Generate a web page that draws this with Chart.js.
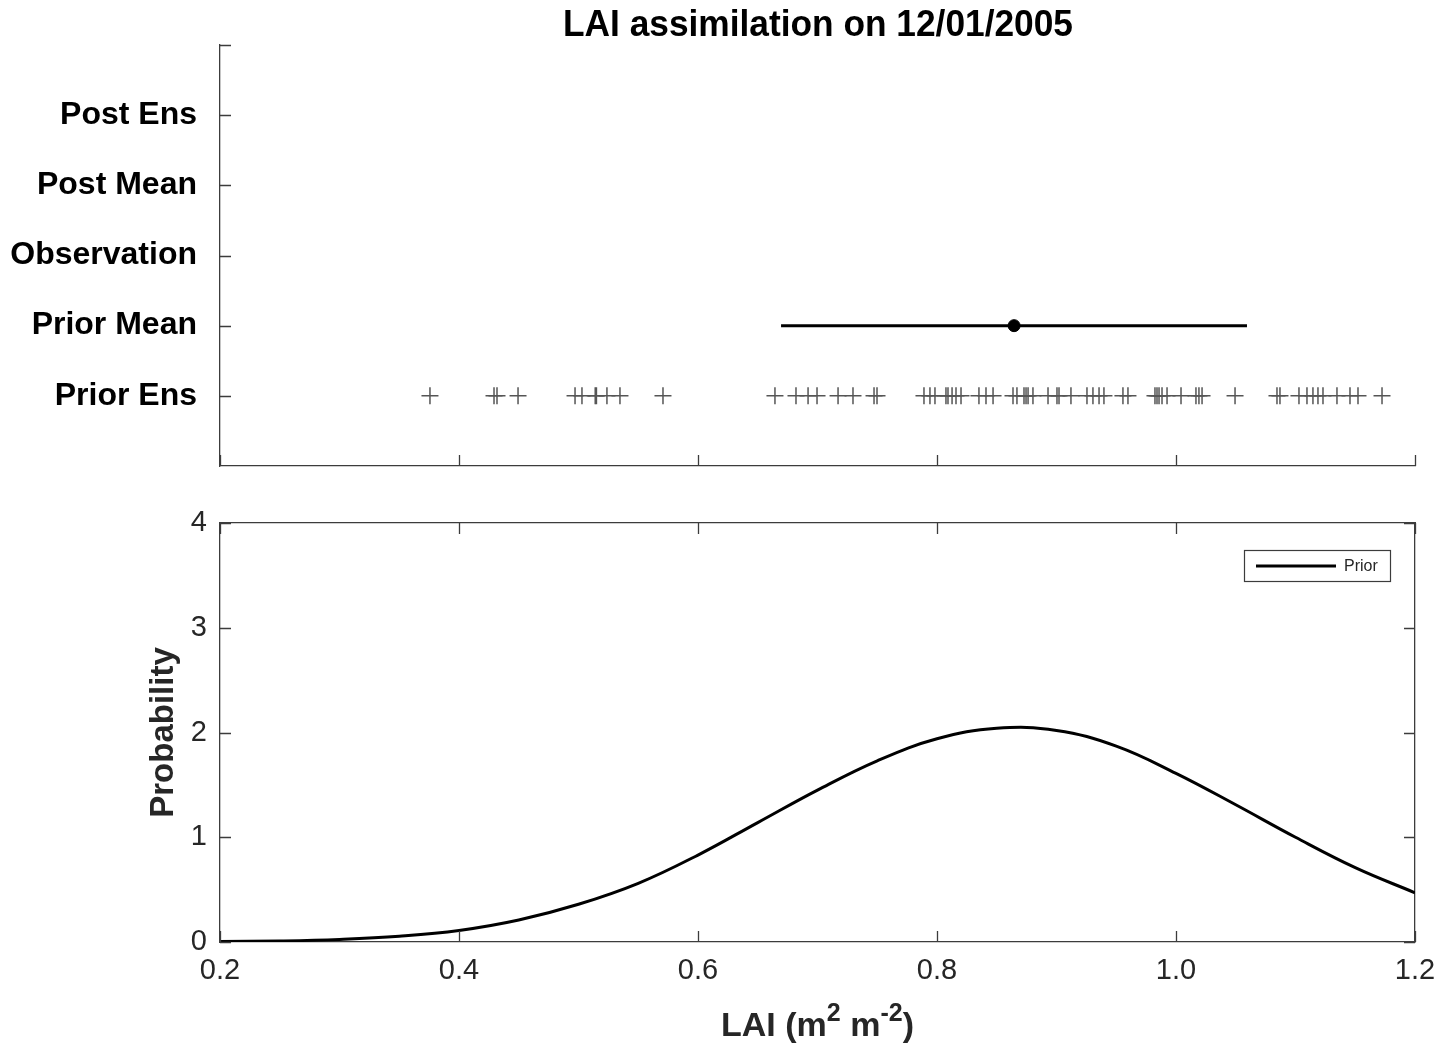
<!DOCTYPE html>
<html>
<head>
<meta charset="utf-8">
<script src="https://cdn.jsdelivr.net/npm/chart.js@4.4.1/dist/chart.umd.min.js"></script>
<style>
  html, body { margin:0; padding:0; background:#fff; }
  #wrapTop { position:absolute; left:0; top:0; width:1441px; height:490px; }
  #wrapBot { position:absolute; left:0; top:490px; width:1441px; height:558px; }
</style>
</head>
<body>
<div id="wrapTop"><canvas id="top" width="1441" height="490"></canvas></div>
<div id="wrapBot"><canvas id="bot" width="1441" height="558"></canvas></div>
<script>
// ---------- data ----------
const chartTitle = "LAI assimilation on 12/01/2005";
const rowLabels = ["Prior Ens", "Prior Mean", "Observation", "Post Mean", "Post Ens"]; // y = 1..5
const priorEnsemble = [
  0.3757, 0.4293, 0.4318, 0.4494, 0.4971, 0.5029, 0.5140, 0.5150, 0.5238, 0.5347, 0.5707,
  0.6644, 0.6820, 0.6921, 0.6996, 0.7172, 0.7297, 0.7473, 0.7498,
  0.7891, 0.7941, 0.7983, 0.8075, 0.8092, 0.8126, 0.8159, 0.8201, 0.8351, 0.8410, 0.8469,
  0.8636, 0.8669, 0.8728, 0.8745, 0.8762, 0.8803, 0.8929, 0.9004, 0.9021, 0.9121,
  0.9255, 0.9305, 0.9356, 0.9397, 0.9556, 0.9598,
  0.9824, 0.9841, 0.9858, 0.9883, 0.9925, 1.0042, 1.0167, 1.0192, 1.0218, 1.0494,
  1.0845, 1.0870, 1.1029, 1.1096, 1.1146, 1.1188, 1.1230, 1.1347, 1.1456, 1.1523, 1.1724
];
const priorMean = 0.8645;
const priorRangeLow = 0.6695;
const priorRangeHigh = 1.0594;

const pdfX = [0.20,0.25,0.30,0.35,0.40,0.45,0.50,0.55,0.60,0.65,0.70,0.75,0.80,0.85,0.90,0.95,1.00,1.05,1.10,1.15,1.20];
const pdfPrior = [0.004,0.010,0.025,0.055,0.110,0.210,0.360,0.560,0.830,1.140,1.450,1.730,1.940,2.040,2.020,1.870,1.610,1.310,1.000,0.710,0.470];

const xTicks = [0.2, 0.4, 0.6, 0.8, 1.0, 1.2];
const yTicksProb = [0, 1, 2, 3, 4];

// ---------- styles ----------
const AX = '#3c3c3c';
const FONT = '"Liberation Sans", Arial, Helvetica, sans-serif';

function noPad(s) { s.paddingTop = 0; s.paddingBottom = 0; s.paddingLeft = 0; s.paddingRight = 0; }

// inward tick marks plugin
function inwardTicks(sides) {
  return {
    id: 'inwardTicks',
    afterDatasetsDraw(chart) {
      const {ctx, chartArea: a, scales} = chart;
      const L = 11;
      ctx.save();
      ctx.strokeStyle = AX; ctx.lineWidth = 1.3;
      ctx.beginPath();
      const xs = scales.x, ys = scales.y;
      const xv = chart.options.plugins.inwardTicks.xValues;
      const yv = chart.options.plugins.inwardTicks.yValues;
      xv.forEach(v => {
        const px = Math.round(xs.getPixelForValue(v)) + 0.5;
        if (sides.includes('bottom')) { ctx.moveTo(px, a.bottom); ctx.lineTo(px, a.bottom - L); }
        if (sides.includes('top')) { ctx.moveTo(px, a.top); ctx.lineTo(px, a.top + L); }
      });
      yv.forEach(v => {
        const py = Math.round(ys.getPixelForValue(v)) + 0.5;
        if (sides.includes('left')) { ctx.moveTo(a.left, py); ctx.lineTo(a.left + L, py); }
        if (sides.includes('right')) { ctx.moveTo(a.right, py); ctx.lineTo(a.right - L, py); }
      });
      ctx.stroke();
      ctx.restore();
    }
  };
}

const titlePlugin = {
  id: 'condTitle',
  afterDraw(chart) {
    const ctx = chart.ctx;
    ctx.save();
    ctx.font = 'bold 37px ' + FONT;
    ctx.fillStyle = '#000';
    ctx.textBaseline = 'alphabetic';
    const txt = chart.options.plugins.condTitle.text;
    const w = ctx.measureText(txt).width;
    const target = 510;
    const cx = 818;
    ctx.translate(cx, 36);
    ctx.scale(target / w, 1);
    ctx.textAlign = 'center';
    ctx.fillText(txt, 0, 0);
    ctx.restore();
  }
};

const legendPlugin = {
  id: 'boxLegend',
  afterDraw(chart) {
    const ctx = chart.ctx;
    const a = chart.chartArea;
    const x0 = a.right - 171, y0 = a.top + 27, w = 146, h = 31;
    ctx.save();
    ctx.fillStyle = '#fff';
    ctx.fillRect(x0, y0, w, h);
    ctx.strokeStyle = '#3c3c3c'; ctx.lineWidth = 1.2;
    ctx.strokeRect(x0 + 0.5, y0 + 0.5, w, h);
    ctx.strokeStyle = '#000'; ctx.lineWidth = 3;
    ctx.beginPath(); ctx.moveTo(x0 + 12, y0 + h/2 + 0.5); ctx.lineTo(x0 + 92, y0 + h/2 + 0.5); ctx.stroke();
    ctx.fillStyle = '#262626';
    ctx.font = '16px ' + FONT;
    ctx.textBaseline = 'middle';
    ctx.fillText(chart.data.datasets[0].label, x0 + 100, y0 + h/2 + 1);
    ctx.restore();
  }
};

const xTitlePlugin = {
  id: 'xTitleSup',
  afterDraw(chart) {
    const ctx = chart.ctx;
    const a = chart.chartArea;
    const parts = [['LAI (m', false], ['2', true], [' m', false], ['-2', true], [')', false]];
    ctx.save();
    ctx.fillStyle = '#262626';
    const big = 'bold 34px ' + FONT, small = 'bold 25px ' + FONT;
    let total = 0;
    parts.forEach(([t, s]) => { ctx.font = s ? small : big; total += ctx.measureText(t).width; });
    let x = (a.left + a.right) / 2 - total / 2;
    const base = 546;
    ctx.textBaseline = 'alphabetic';
    parts.forEach(([t, s]) => {
      ctx.font = s ? small : big;
      ctx.fillText(t, x, s ? base - 15 : base);
      x += ctx.measureText(t).width;
    });
    ctx.restore();
  }
};

// ---------- top chart ----------
new Chart(document.getElementById('top'), {
  data: {
    datasets: [
      {
        type: 'scatter',
        label: 'Prior Ens',
        data: priorEnsemble.map(v => ({x: v, y: 1})),
        pointStyle: 'cross',
        radius: 8.5,
        borderColor: '#555555',
        borderWidth: 1.5,
        backgroundColor: '#555555'
      },
      {
        type: 'line',
        label: 'Prior Mean range',
        data: [{x: priorRangeLow, y: 2}, {x: priorRangeHigh, y: 2}],
        borderColor: '#000',
        borderWidth: 3,
        pointRadius: 0
      },
      {
        type: 'scatter',
        label: 'Prior Mean',
        data: [{x: priorMean, y: 2}],
        pointStyle: 'circle',
        radius: 6,
        backgroundColor: '#000',
        borderColor: '#000'
      }
    ]
  },
  options: {
    responsive: false,
    animation: false,
    layout: { padding: { left: 0, right: 26, top: 45, bottom: 0 } },
    plugins: {
      legend: { display: false },
      tooltip: { enabled: false },
      condTitle: { text: chartTitle },
      inwardTicks: { xValues: xTicks, yValues: [1, 2, 3, 4, 5, 6] }
    },
    scales: {
      x: {
        type: 'linear', min: 0.2, max: 1.2,
        grid: { display: false, drawTicks: false },
        border: { display: true, color: AX, width: 1.3 },
        ticks: { display: false },
        afterFit(s) { s.height = 24; noPad(s); }
      },
      y: {
        type: 'linear', min: 0, max: 6,
        grid: { display: false, drawTicks: false },
        border: { display: true, color: AX, width: 1.3 },
        afterBuildTicks(s) { s.ticks = [1,2,3,4,5].map(v => ({value: v})); },
        ticks: {
          padding: 23,
          color: '#000',
          font: { family: FONT, size: 32, weight: 'bold' },
          callback: (v) => rowLabels[v - 1] || ''
        },
        afterFit(s) { s.width = 220; noPad(s); }
      }
    }
  },
  plugins: [inwardTicks(['left', 'bottom']), titlePlugin]
});

// ---------- bottom chart ----------
new Chart(document.getElementById('bot'), {
  type: 'line',
  data: {
    datasets: [{
      label: 'Prior',
      data: pdfX.map((x, i) => ({x: x, y: pdfPrior[i]})),
      borderColor: '#000',
      borderWidth: 3,
      pointRadius: 0,
      tension: 0.4,
      fill: false
    }]
  },
  options: {
    responsive: false,
    animation: false,
    layout: { padding: { left: 0, right: 26, top: 33, bottom: 0 } },
    plugins: {
      legend: { display: false },
      tooltip: { enabled: false },
      inwardTicks: { xValues: xTicks, yValues: yTicksProb }
    },
    scales: {
      x: {
        type: 'linear', min: 0.2, max: 1.2,
        grid: { display: false, drawTicks: false },
        border: { display: true, color: AX, width: 1.3 },
        afterBuildTicks(s) { s.ticks = xTicks.map(v => ({value: v})); },
        ticks: {
          padding: 12, color: '#262626', maxRotation: 0, autoSkip: false,
          font: { family: FONT, size: 29 },
          callback: (v) => Number(v).toFixed(1)
        },
        afterFit(s) { s.height = 106; noPad(s); }
      },
      x2: {
        type: 'linear', position: 'top', min: 0.2, max: 1.2, display: true,
        grid: { display: false, drawTicks: false },
        border: { display: true, color: AX, width: 1.3 },
        ticks: { display: false },
        afterFit(s) { s.height = 0; noPad(s); }
      },
      y: {
        type: 'linear', min: 0, max: 4,
        grid: { display: false, drawTicks: false },
        border: { display: true, color: AX, width: 1.3 },
        afterBuildTicks(s) { s.ticks = yTicksProb.map(v => ({value: v})); },
        ticks: {
          padding: 13, color: '#262626',
          font: { family: FONT, size: 29 }
        },
        title: {
          display: true, text: 'Probability', color: '#262626',
          font: { family: FONT, size: 33, weight: 'bold' },
          padding: { top: 144, bottom: 0 }
        },
        afterFit(s) { s.width = 220; noPad(s); }
      },
      y2: {
        type: 'linear', position: 'right', min: 0, max: 4, display: true,
        grid: { display: false, drawTicks: false },
        border: { display: true, color: AX, width: 1.3 },
        ticks: { display: false },
        afterFit(s) { s.width = 0; noPad(s); }
      }
    }
  },
  plugins: [inwardTicks(['left', 'right', 'bottom', 'top']), legendPlugin, xTitlePlugin]
});
</script>
</body>
</html>
